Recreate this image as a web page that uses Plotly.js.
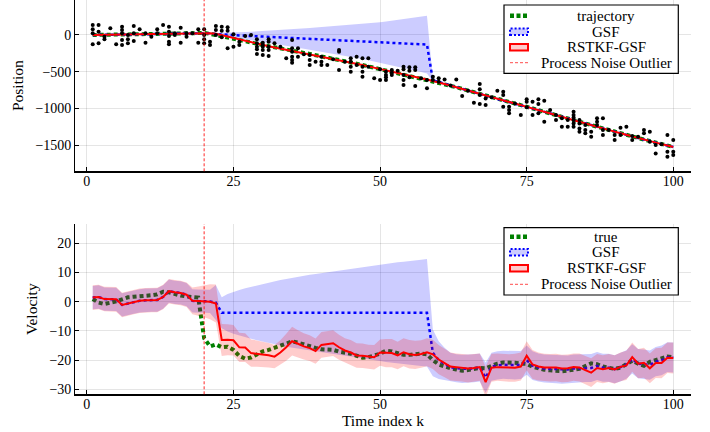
<!DOCTYPE html>
<html><head><meta charset="utf-8">
<script src="https://cdn.plot.ly/plotly-3.0.1.min.js"></script>
<style>html,body{margin:0;padding:0;background:#fff}#chart{width:710px;height:432px}</style>
</head><body><div id="chart"></div>
<script>
// ---------------- DATA ----------------
const timeK = [1,2,3,4,5,6,7,8,9,10,11,12,13,14,15,16,17,18,19,20,21,22,23,24,25,26,27,28,29,30,
31,32,33,34,35,36,37,38,39,40,41,42,43,44,45,46,47,48,49,50,51,52,53,54,55,56,57,58,59,60,
61,62,63,64,65,66,67,68,69,70,71,72,73,74,75,76,77,78,79,80,81,82,83,84,85,86,87,88,89,90,
91,92,93,94,95,96,97,98,99,100];
const outlierK = 20;
const xTicks = [0,25,50,75,100];
const posTicks = [0,-500,-1000,-1500];
const velTicks = [-30,-20,-10,0,10,20];

// true position (trajectory)
const truePos = [0,0.9,0.6,-0.2,-0.7,-0.6,0.2,1.7,3.4,5.2,
7.2,9.4,11.9,15.3,18.5,21.1,23.2,25.0,26.6,28.0,
15.5,0.2,-14.4,-30.0,-45.4,-61.9,-80.5,-100.0,-119.1,-137.1,
-154.1,-170.6,-186.4,-201.4,-215.7,-229.3,-243.3,-258.0,-273.2,-289.0,
-305.3,-321.6,-338.1,-355.2,-372.6,-390.4,-408.9,-428.1,-447.1,-465.6,
-483.4,-500.2,-517.2,-534.8,-553.0,-571.2,-589.1,-606.9,-624.9,-644.9,
-666.4,-688.7,-711.5,-734.7,-758.3,-781.7,-804.7,-827.4,-850.2,-872.2,
-893.4,-914.2,-934.9,-955.8,-977.0,-998.3,-1020.6,-1043.5,-1066.8,-1090.3,
-1114.0,-1137.8,-1161.4,-1184.7,-1207.7,-1229.7,-1250.8,-1272.2,-1294.4,-1317.0,
-1340.0,-1362.6,-1383.9,-1404.1,-1425.3,-1447.2,-1467.8,-1487.7,-1506.9,-1525.7];

// RSTKF-GSF position estimate
const rstkfPos = [0,0.9,0.6,-0.2,-0.7,-0.6,0.2,1.7,3.4,5.2,
7.2,9.4,11.9,15.3,18.5,21.1,23.2,25.0,26.6,28.0,
24.0,16.0,-4.0,-22.0,-40.0,-60.0,-79.5,-99.0,-118.5,-136.5,
-154.1,-170.6,-186.4,-201.4,-215.7,-229.3,-243.3,-258.0,-273.2,-289.0,
-305.3,-321.6,-338.1,-355.2,-372.6,-390.4,-408.9,-428.1,-447.1,-465.6,
-483.4,-500.2,-517.2,-534.8,-553.0,-571.2,-589.1,-606.9,-624.9,-644.9,
-666.4,-688.7,-711.5,-734.7,-758.3,-781.7,-804.7,-827.4,-850.2,-872.2,
-893.4,-914.2,-934.9,-955.8,-977.0,-998.3,-1020.6,-1043.5,-1066.8,-1090.3,
-1114.0,-1137.8,-1161.4,-1184.7,-1207.7,-1229.7,-1250.8,-1272.2,-1294.4,-1317.0,
-1340.0,-1362.6,-1383.9,-1404.1,-1425.3,-1447.2,-1467.8,-1487.7,-1506.9,-1525.7];
const rstkfPosSigma = [8,8,8,8,8,8,8,8,8,8,8,8,8,8,8,8,8,8,8,8,8,8,8,8,8,8,8,8,8,8,
8,8,8,8,8,8,8,8,8,8,8,8,8,8,8,8,8,8,8,8,8,8,8,8,8,8,8,8,8,8,
8,8,8,8,8,8,8,8,8,8,8,8,8,8,8,8,8,8,8,8,8,8,8,8,8,8,8,8,8,8,
8,8,8,8,8,8,8,8,8,8];

// GSF position estimate
const gsfPos = [0,0.9,0.6,-0.2,-0.7,-0.6,0.2,1.7,3.4,5.2,
7.2,9.4,11.9,15.3,18.5,21.1,23.2,25.0,26.6,28.0,
24.0,12.0,5.0,1.0,-2.0,-5.9,-9.8,-13.7,-17.6,-21.5,
-25.4,-29.3,-33.2,-37.1,-41.0,-44.9,-48.8,-52.7,-56.6,-60.5,
-64.4,-68.3,-72.2,-76.1,-80.0,-83.9,-87.8,-91.7,-95.6,-99.5,
-103.4,-107.3,-111.2,-115.1,-119.0,-122.9,-126.8,-130.7,-618.0,-642.0,
-666.4,-688.7,-711.5,-734.7,-758.3,-781.7,-804.7,-827.4,-850.2,-872.2,
-893.4,-914.2,-934.9,-955.8,-977.0,-998.3,-1020.6,-1043.5,-1066.8,-1090.3,
-1114.0,-1137.8,-1161.4,-1184.7,-1207.7,-1229.7,-1250.8,-1272.2,-1294.4,-1317.0,
-1340.0,-1362.6,-1383.9,-1404.1,-1425.3,-1447.2,-1467.8,-1487.7,-1506.9,-1525.7];
const gsfPosSigma = [8,8,8,8,8,8,8,8,8,8,8,8,8,8,8,8,8,8,8,8,
8,14,22,28,35,42,50,58,66,75,
84,93,102,111,120,129,138,148,158,168,
178,188,198,208,218,229,240,251,262,273,
288,303,318,333,348,363,378,393,20,12,
10,10,10,10,10,10,10,10,10,10,10,10,10,10,10,10,10,10,10,10,
10,10,10,10,10,10,10,10,10,10,10,10,10,10,10,10,10,10,10,10];

// measurements per time step
const measByK = [
[136,77,23,-127],[136,45,-114],[-23,-59],[91],[-127],[114,68,23,-68,-136],[0,-59,-114],[123,23,-82],[77],[23,-105],
[-23],[77,23],[136],[114,45,-14,-91,-127],[23,0],[100,-105],[23,-23],[23],[77,-105],[77,0,-59,-114],
[-91,-136],[123,68,0],[114,59,-32],[105,59,-182],[9,-159],[-91,-136],[-14],[0],[-59,-114,-159,-195,-259],[-105,-136,-159,-205,-273],
[-59,-91,-159,-205,-286],[-114],[-160],[-318],[-68,-182,-227,-295,-341,-377],[-182,-295],[-264],[-273,-341,-409],[-364],[-295,-364,-409],
[-409],[-330],[-205,-227,-477],[-364],[-318,-364,-432,-500],[-295,-409],[-318,-432,-500,-568],[-318,-432],[-591],[-468,-614],
[-500,-545,-577,-614],[-477,-514,-545],[-486],[-432,-468,-545,-614,-682],[-441,-486,-577],[-441,-477,-695],[-591],[-614,-727],[-568,-614],[-591,-636],
[-605],[-690],[-605],[-832],[-760],[-923],[-668,-741,-818,-941],[-864,-955],[-850],[-759],
[-773,-818,-977],[-977,-1023,-1068],[-935],[-1091],[-877,-909,-986],[-909,-1091],[-877,-941,-1068],[-895,-1182],[-1023],[-1091,-1159],
[-1136,-1250],[-1159,-1250],[-1045,-1091,-1123,-1159,-1205,-1250],[-1159,-1205,-1273,-1318],[-1227,-1295,-1341],[-1318,-1386],[-1136,-1182,-1227],[-1136,-1295,-1364],[-1295],[-1364,-1432],
[-1264,-1364],[-1250],[-1377,-1432],[-1386],[-1295,-1341],[-1318,-1455],[-1500,-1614],[-1490],[-1364,-1591,-1659],[-1432,-1591,-1636]];

// true velocity
const trueVel = [0.9,-0.3,-0.8,-0.5,0.1,0.8,1.5,1.7,1.8,2.0,
2.2,2.5,3.4,3.2,2.6,2.1,1.8,1.6,1.4,-12.5,
-15.3,-14.6,-15.6,-15.4,-16.5,-18.6,-19.5,-19.1,-18.0,-17.0,
-16.5,-15.8,-15.0,-14.3,-13.6,-14.0,-14.7,-15.2,-15.8,-16.3,
-16.3,-16.5,-17.1,-17.4,-17.8,-18.5,-19.2,-19.0,-18.5,-17.8,
-16.8,-17.0,-17.6,-18.2,-18.2,-17.9,-17.8,-18.0,-20.0,-21.5,
-22.3,-22.8,-23.2,-23.6,-23.4,-23.0,-22.7,-22.8,-22.0,-21.2,
-20.8,-20.7,-20.9,-21.2,-21.3,-22.3,-22.9,-23.3,-23.5,-23.7,
-23.8,-23.6,-23.3,-23.0,-22.0,-21.1,-21.4,-22.2,-22.6,-23.0,
-22.6,-21.3,-20.2,-21.2,-21.9,-20.6,-19.9,-19.2,-18.8,-19.0];

// RSTKF-GSF velocity estimate
const rstkfVel = [1.4,1.6,0.9,0.8,0.8,-1.1,-0.6,-0.1,0.3,0.5,
0.6,0.6,1.6,3.6,3.2,3.0,2.4,0.3,0.2,0.2,
0.0,-0.6,-13.1,-13.0,-13.2,-15.6,-15.7,-17.6,-17.8,-18.0,
-18.3,-18.8,-17.4,-15.6,-13.5,-14.4,-15.3,-15.9,-16.9,-14.8,
-14.5,-14.2,-15.6,-16.7,-17.4,-18.4,-18.5,-18.8,-19.0,-17.4,
-17.6,-17.6,-18.4,-17.3,-18.0,-18.2,-17.9,-17.3,-18.0,-19.8,
-21.0,-22.2,-22.4,-22.6,-22.9,-22.7,-22.4,-27.5,-22.6,-22.4,
-22.5,-22.7,-22.6,-22.2,-18.5,-21.5,-22.2,-22.5,-22.6,-22.5,
-22.9,-22.8,-22.4,-22.5,-23.4,-24.3,-22.7,-23.1,-22.7,-23.2,
-22.3,-21.8,-19.0,-21.2,-20.9,-22.8,-21.0,-21.0,-19.2,-19.3];
const rstkfVelSigma = [4.2,4.2,4.2,4.2,4.2,4.2,4.2,4.2,4.2,4.2,
4.2,4.2,4.2,4.2,4.2,4.2,4.2,4.6,5.0,5.5,
6.0,6.5,5.5,5.3,5.2,5.0,4.9,4.7,4.5,4.3,
4.2,4.0,4.2,4.6,4.9,4.6,4.5,4.4,4.3,4.4,
4.3,4.4,4.3,4.2,4.3,4.2,4.2,4.1,4.2,4.5,
4.8,4.8,4.7,4.8,4.9,4.8,4.7,4.8,5.0,5.0,
4.9,4.8,4.7,4.7,4.8,4.8,4.7,5.2,4.8,4.7,
4.7,4.7,4.8,4.8,5.0,5.0,4.8,4.7,4.7,4.7,
4.7,4.7,4.7,4.8,4.8,4.9,4.8,4.8,4.8,4.9,
4.9,5.0,5.0,5.0,5.1,5.1,5.1,5.2,5.2,5.3];

// GSF velocity estimate
const gsfVel = [1.4,1.6,0.9,0.8,0.8,-1.1,-0.6,-0.1,0.3,0.5,
0.6,0.6,1.6,3.6,3.2,3.0,2.4,0.3,0.2,0.2,
0.1,-0.3,-3.8,-3.8,-3.8,-3.8,-3.8,-3.8,-3.8,-3.8,
-3.8,-3.8,-3.8,-3.8,-3.8,-3.8,-3.8,-3.8,-3.8,-3.8,
-3.8,-3.8,-3.8,-3.8,-3.8,-3.8,-3.8,-3.8,-3.8,-3.8,
-3.8,-3.8,-3.8,-3.8,-3.8,-3.8,-3.8,-3.8,-17.5,-20.0,
-21.3,-22.4,-22.8,-23.0,-23.0,-22.8,-22.5,-26.0,-22.3,-21.8,
-21.6,-21.7,-21.8,-21.7,-20.0,-21.9,-22.5,-22.9,-23.0,-23.1,
-23.3,-23.2,-22.9,-22.8,-22.7,-22.7,-22.0,-22.6,-22.6,-23.1,
-22.4,-21.5,-19.6,-21.2,-21.4,-21.7,-20.5,-20.1,-19.0,-19.1];
const gsfVelSigma = [4.0,4.0,4.0,4.0,4.0,4.0,4.0,4.0,4.0,4.0,
4.0,4.0,4.0,4.0,4.0,4.0,4.0,4.0,4.0,4.0,
4.0,6.0,5.3,6.4,7.2,7.8,8.4,8.9,9.4,9.9,
10.4,10.8,11.2,11.6,12.0,12.4,12.7,13.0,13.3,13.6,
13.9,14.2,14.5,14.8,15.1,15.4,15.7,16.0,16.2,16.5,
16.8,17.0,17.3,17.5,17.8,18.0,18.2,18.4,8.0,6.5,
5.5,4.9,4.8,4.8,4.8,4.8,4.8,5.2,4.8,4.8,
4.8,4.8,4.8,4.8,5.0,4.9,4.8,4.8,4.8,4.8,
4.8,4.8,4.8,4.8,4.8,4.8,4.8,4.8,4.8,4.8,
4.9,4.9,5.0,5.0,5.0,5.0,5.0,5.1,5.1,5.1];

// ---------------- STYLE ----------------
const FONT = 'Liberation Serif, Times New Roman, serif';
const GREEN = '#008000', BLUE = '#0000ff', RED = '#ff0000';
const BLUE_FILL = 'rgba(0,0,255,0.2)', RED_FILL = 'rgba(255,0,0,0.2)';
const W = 710, H = 432;
const px = v => v / W, py = v => 1 - v / H;

function ribbon(x, m, s, xa, ya, color) {
  const up = m.map((v, i) => v + s[i]);
  const lo = m.map((v, i) => v - s[i]);
  return {x: x.concat(x.slice().reverse()), y: up.concat(lo.slice().reverse()),
    xaxis: xa, yaxis: ya, type: 'scatter', mode: 'lines', fill: 'toself',
    fillcolor: color, line: {width: 0}, hoverinfo: 'skip', showlegend: false};
}
function line(x, y, xa, ya, style) {
  return {x: x, y: y, xaxis: xa, yaxis: ya, type: 'scatter', mode: 'lines',
    line: style, hoverinfo: 'skip', showlegend: false};
}
const trueStyle = {color: GREEN, width: 4, dash: '4px,3px'};
const gsfStyle = {color: BLUE, width: 2.5, dash: '3px,3px'};
const rstkfStyle = {color: RED, width: 2};

const measX = [], measY = [];
measByK.forEach((arr, i) => arr.forEach(v => { measX.push(timeK[i]); measY.push(v); }));

const traces = [
  line(timeK, truePos, 'x', 'y', trueStyle),
  ribbon(timeK, gsfPos, gsfPosSigma, 'x', 'y', BLUE_FILL),
  line(timeK, gsfPos, 'x', 'y', gsfStyle),
  ribbon(timeK, rstkfPos, rstkfPosSigma, 'x', 'y', RED_FILL),
  line(timeK, rstkfPos, 'x', 'y', rstkfStyle),
  {x: measX, y: measY, xaxis: 'x', yaxis: 'y', type: 'scatter', mode: 'markers',
   marker: {color: '#000', size: 4}, hoverinfo: 'skip', showlegend: false},
  line(timeK, trueVel, 'x2', 'y2', trueStyle),
  ribbon(timeK, gsfVel, gsfVelSigma, 'x2', 'y2', BLUE_FILL),
  line(timeK, gsfVel, 'x2', 'y2', gsfStyle),
  ribbon(timeK, rstkfVel, rstkfVelSigma, 'x2', 'y2', RED_FILL),
  line(timeK, rstkfVel, 'x2', 'y2', rstkfStyle)
];

const tickFont = {family: FONT, size: 14, color: '#000'};
const titleFont = {family: FONT, size: 15.5, color: '#000'};
const xDomain = [75.3 / W, 690.7 / W];
function xAxis(anchor, title) {
  const a = {domain: xDomain, anchor: anchor, range: [-1.97, 102.97], tickvals: xTicks,
    showgrid: true, gridcolor: 'rgba(0,0,0,0.1)', gridwidth: 1, zeroline: false,
    showline: true, linecolor: '#000', linewidth: 1.2, ticks: 'inside', ticklen: 4,
    tickcolor: '#000', tickfont: tickFont, ticklabelstandoff: -3};
  if (title) a.title = {text: title, font: titleFont, standoff: 3};
  return a;
}
function yAxis(anchor, domain, range, ticks, title) {
  return {domain: domain, anchor: anchor, range: range, tickvals: ticks,
    showgrid: true, gridcolor: 'rgba(0,0,0,0.1)', gridwidth: 1, zeroline: false,
    showline: true, linecolor: '#000', linewidth: 1.2, ticks: 'inside', ticklen: 4,
    tickcolor: '#000', tickfont: tickFont, title: {text: title, font: titleFont, standoff: 8}};
}

const outlierLine = {color: 'rgba(255,0,0,0.85)', width: 1, dash: '3px,2px'};
const shapes = [
  {type: 'line', xref: 'x', yref: 'y domain', x0: outlierK, x1: outlierK, y0: 0, y1: 1, line: outlierLine},
  {type: 'line', xref: 'x2', yref: 'y2 domain', x0: outlierK, x1: outlierK, y0: 0, y1: 1, line: outlierLine}
];
const annotations = [];
function legend(top, bottom, rows, labels) {
  shapes.push({type: 'rect', xref: 'paper', yref: 'paper', x0: px(504), x1: px(678.3),
    y0: py(bottom), y1: py(top), fillcolor: '#fff', line: {color: '#000', width: 1.2}});
  const sx0 = px(510), sx1 = px(528);
  shapes.push({type: 'line', xref: 'paper', yref: 'paper', x0: sx0, x1: sx1, y0: py(rows[0]), y1: py(rows[0]),
    line: {color: GREEN, width: 4.5, dash: '4px,2.5px'}});
  shapes.push({type: 'rect', xref: 'paper', yref: 'paper', x0: sx0, x1: sx1, y0: py(rows[1] + 3.3), y1: py(rows[1] - 3.3),
    fillcolor: BLUE_FILL, line: {color: BLUE, width: 2, dash: '2px,2px'}});
  shapes.push({type: 'rect', xref: 'paper', yref: 'paper', x0: sx0, x1: sx1, y0: py(rows[2] + 3.3), y1: py(rows[2] - 3.3),
    fillcolor: RED_FILL, line: {color: RED, width: 2}});
  shapes.push({type: 'line', xref: 'paper', yref: 'paper', x0: sx0, x1: sx1, y0: py(rows[3]), y1: py(rows[3]),
    line: {color: 'rgba(255,0,0,0.7)', width: 1, dash: '3px,2px'}});
  labels.forEach((t, i) => annotations.push({xref: 'paper', yref: 'paper', x: px(606), y: py(rows[i]),
    text: t, showarrow: false, xanchor: 'center', yanchor: 'middle', borderpad: 0,
    font: {family: FONT, size: 15, color: '#000'}}));
}
legend(5, 73.3, [15.7, 31.7, 47.3, 62.7], ['trajectory', 'GSF', 'RSTKF-GSF', 'Process Noise Outlier']);
legend(227.7, 295, [236.7, 252.3, 268.3, 284.3], ['true', 'GSF', 'RSTKF-GSF', 'Process Noise Outlier']);

const layout = {
  width: W, height: H, margin: {l: 0, r: 0, t: 0, b: 0},
  paper_bgcolor: '#fff', plot_bgcolor: '#fff', showlegend: false,
  font: {family: FONT, color: '#000'},
  xaxis: xAxis('y'),
  yaxis: yAxis('x', [1 - 171.3 / H, 1], [-1858, 477], posTicks, 'Position'),
  xaxis2: xAxis('y2', 'Time index k'),
  yaxis2: yAxis('x2', [1 - 394.3 / H, 1 - 224 / H], [-31.7, 26.6], velTicks, 'Velocity'),
  shapes: shapes, annotations: annotations
};
Plotly.newPlot('chart', traces, layout, {displayModeBar: false, staticPlot: true});
</script></body></html>
